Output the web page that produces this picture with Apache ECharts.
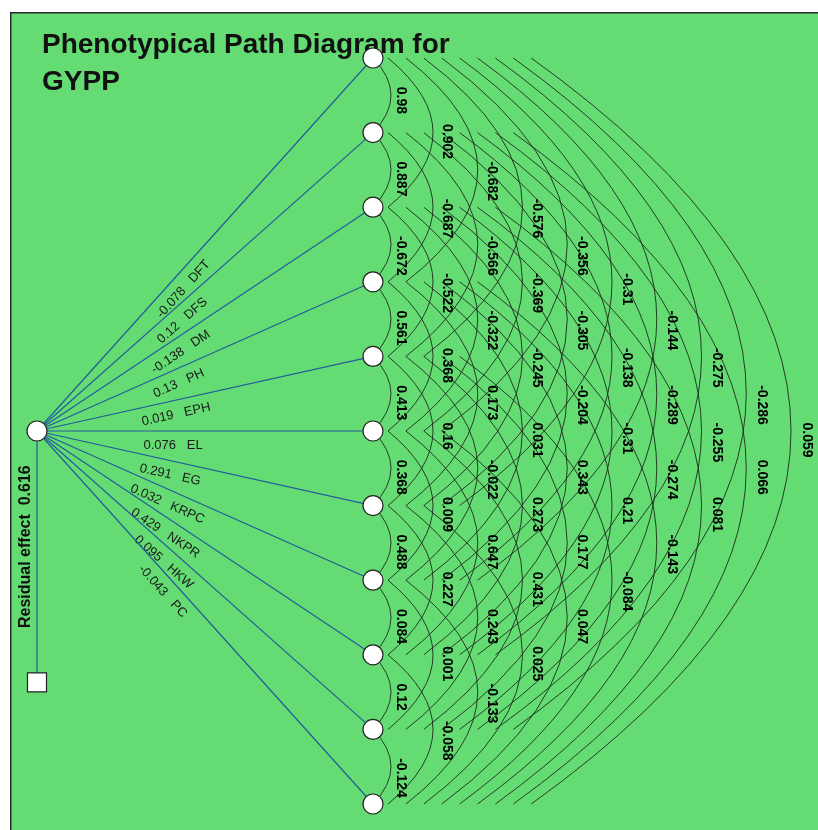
<!DOCTYPE html>
<html><head><meta charset="utf-8">
<script src="https://cdn.jsdelivr.net/npm/echarts@6/dist/echarts.min.js"></script>
<style>html,body{margin:0;padding:0;background:#fff}#c{width:818px;height:830px}</style>
</head><body><div id="c"></div>
<script>
// ---------- data ----------
const variables = ['DFT', 'DFS', 'DM', 'PH', 'EPH', 'EL', 'EG', 'KRPC', 'NKPR', 'HKW', 'PC'];
const directEffects = [-0.078, 0.12, -0.138, 0.13, 0.019, 0.076, 0.291, 0.032, 0.429, 0.095, -0.043];
const residualEffect = 0.616;
const titleText = 'Phenotypical Path Diagram for\nGYPP';
// correlations of each variable with the variables listed after it
const corrDFT  = [0.98, 0.902, -0.682, -0.576, -0.356, -0.31, -0.144, -0.275, -0.286, 0.059];
const corrDFS  = [0.887, -0.687, -0.566, -0.369, -0.305, -0.138, -0.289, -0.255, 0.066];
const corrDM   = [-0.672, -0.522, -0.322, -0.245, -0.204, -0.31, -0.274, 0.081];
const corrPH   = [0.561, 0.368, 0.173, 0.031, 0.343, 0.21, -0.143];
const corrEPH  = [0.413, 0.16, -0.022, 0.273, 0.177, -0.084];
const corrEL   = [0.368, 0.009, 0.647, 0.431, 0.047];
const corrEG   = [0.488, 0.227, 0.243, 0.025];
const corrKRPC = [0.084, 0.001, -0.133];
const corrNKPR = [0.12, -0.058];
const corrHKW  = [-0.124];
const corrRows = [corrDFT, corrDFS, corrDM, corrPH, corrEPH, corrEL, corrEG, corrKRPC, corrNKPR, corrHKW];

// ---------- layout ----------
const SOURCE_ROW = (variables.length - 1) / 2;
const RESID_ROW = 8.37;
const FONT = '"Liberation Sans", Arial, sans-serif';
const GREEN = '#64dc73';
const BLUE = '#245c9a';

const arcData = [];
corrRows.forEach((row, i) => row.forEach((v, m) => arcData.push([i, i + m + 1, v])));
const pathData = directEffects.map((v, i) => [i, v]);

function renderArc(params, api) {
  const i = api.value(0), j = api.value(1), v = api.value(2);
  const a = api.coord([1, i]), b = api.coord([1, j]);
  const k = j - i;
  const x0 = a[0] + (k === 1 ? 0 : 15 + 17.9 * (k - 2));
  const apex = a[0] + (k === 1 ? 18 : 60 + 44.75 * (k - 2));
  const ym = (a[1] + b[1]) / 2;
  const lx = a[0] + (k === 1 ? 28 : 74 + 45 * (k - 2));
  return {
    type: 'group', children: [
      { type: 'bezierCurve', shape: { x1: x0, y1: a[1], x2: x0, y2: b[1], cpx1: 2 * apex - x0, cpy1: ym },
        style: { stroke: '#1b2b1b', fill: null, lineWidth: 0.9 } },
      { type: 'text', x: lx, y: ym - 8.5, rotation: -Math.PI / 2, z2: 5,
        style: { text: String(v), fill: '#000', font: 'bold 14px ' + FONT, align: 'left', verticalAlign: 'middle' } }
    ]
  };
}

function renderPath(params, api) {
  const idx = api.value(0), coef = api.value(1);
  const s = api.coord([0, SOURCE_ROW]), t = api.coord([1, idx]);
  const dx = t[0] - s[0], dy = t[1] - s[1], len = Math.hypot(dx, dy);
  const nx = -dy / len, ny = dx / len;
  const f = 0.405, off = 14;
  return {
    type: 'group', children: [
      { type: 'line', shape: { x1: s[0], y1: s[1], x2: t[0], y2: t[1] }, style: { stroke: BLUE, lineWidth: 1.2 } },
      { type: 'text', x: s[0] + f * dx + nx * off, y: s[1] + f * dy + ny * off, rotation: -Math.atan2(dy, dx),
        style: { text: String(coef) + '   ' + variables[idx], fill: '#1a1a1a', font: '13px ' + FONT, align: 'center', verticalAlign: 'middle' } }
    ]
  };
}

function renderResidual(params, api) {
  const v = api.value(0);
  const s = api.coord([0, SOURCE_ROW]), r = api.coord([0, RESID_ROW]);
  return {
    type: 'group', children: [
      { type: 'line', shape: { x1: s[0], y1: s[1], x2: r[0], y2: r[1] }, style: { stroke: BLUE, lineWidth: 1.2 } },
      { type: 'text', x: s[0] - 11, y: s[1] + 0.46 * (r[1] - s[1]), rotation: Math.PI / 2,
        style: { text: 'Residual effect  ' + v, fill: '#111', font: 'bold 16px ' + FONT, align: 'center', verticalAlign: 'middle' } }
    ]
  };
}

const chart = echarts.init(document.getElementById('c'));
chart.setOption({
  animation: false,
  backgroundColor: '#ffffff',
  title: {
    text: titleText, left: 37, top: 22,
    textStyle: { fontSize: 28, fontWeight: 'bold', fontFamily: FONT, color: '#111', lineHeight: 37 }
  },
  graphic: [{
    type: 'rect', left: 10, top: 12, z: -10, silent: true,
    shape: { width: 830, height: 840 },
    style: { fill: GREEN, stroke: '#2a2a2a', lineWidth: 1.5 }
  }],
  grid: { left: 37, right: 445, top: 58, bottom: 26 },
  xAxis: { type: 'value', min: 0, max: 1, show: false },
  yAxis: { type: 'value', min: 0, max: 10, inverse: true, show: false },
  series: [
    { type: 'custom', clip: false, silent: true, z: 2, data: arcData, renderItem: renderArc },
    { type: 'custom', clip: false, silent: true, z: 3, data: pathData, renderItem: renderPath },
    { type: 'custom', clip: false, silent: true, z: 3, data: [[residualEffect]], renderItem: renderResidual },
    { type: 'scatter', silent: true, z: 10, symbol: 'circle', symbolSize: 20,
      itemStyle: { color: '#fff', borderColor: '#222', borderWidth: 1.2, opacity: 1 },
      data: variables.map((_, i) => [1, i]).concat([[0, SOURCE_ROW]]) },
    { type: 'scatter', silent: true, z: 10, symbol: 'rect', symbolSize: 19,
      itemStyle: { color: '#fff', borderColor: '#222', borderWidth: 1.2, opacity: 1 },
      data: [[0, RESID_ROW]] }
  ]
});
</script></body></html>
